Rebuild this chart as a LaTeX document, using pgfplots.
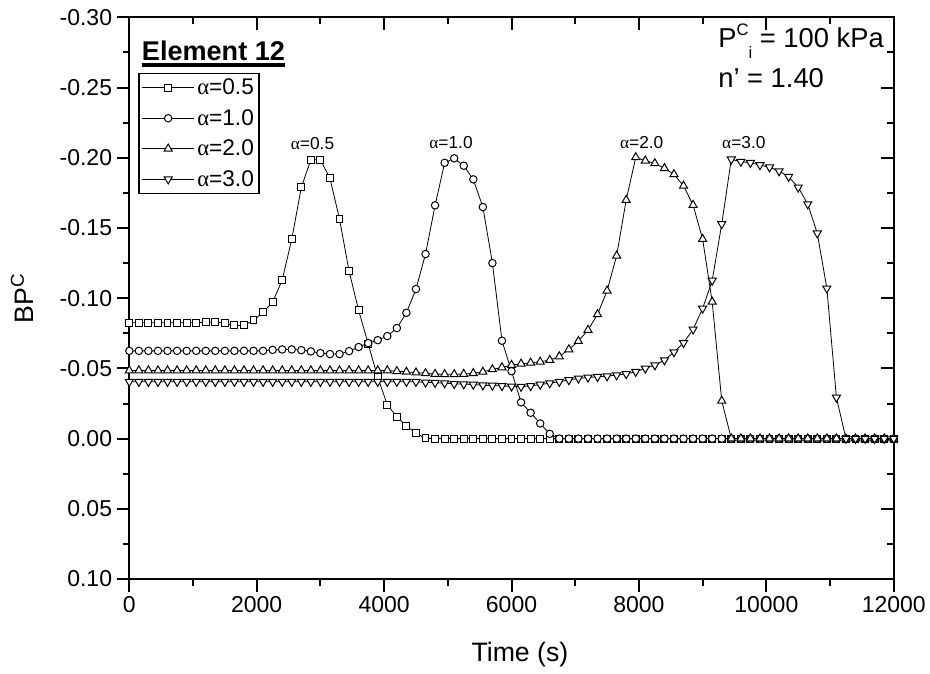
\documentclass[border=0pt]{standalone}
\usepackage{fontspec}
\setmainfont{Liberation Sans}
\newfontfamily\symf{Liberation Serif}
\usepackage{pgfplots}
\usepackage{pgfplotstable}
\pgfplotsset{compat=1.18}

\pgfplotstableread{
t v
0 -0.0825
150 -0.0825
300 -0.0825
450 -0.0825
600 -0.0825
750 -0.0825
900 -0.0825
1050 -0.0825
1200 -0.0830
1350 -0.0832
1500 -0.0820
1650 -0.0806
1800 -0.0806
1950 -0.0842
2100 -0.0900
2250 -0.0972
2400 -0.1129
2550 -0.1419
2700 -0.1789
2850 -0.1986
3000 -0.1986
3150 -0.1853
3300 -0.1563
3450 -0.1193
3600 -0.0913
3750 -0.0675
3900 -0.0436
4050 -0.0241
4200 -0.0155
4350 -0.0091
4500 -0.0037
4650 -0.0003
4800 0
4950 0
5100 0
5250 0
5400 0
5550 0
5700 0
5850 0
6000 0
6150 0
6300 0
6450 0
6600 0
6750 0
6900 0
7050 0
7200 0
7350 0
7500 0
7650 0
7800 0
7950 0
8100 0
8250 0
8400 0
8550 0
8700 0
8850 0
9000 0
9150 0
9300 0
9450 0
9600 0
9750 0
9900 0
10050 0
10200 0
10350 0
10500 0
10650 0
10800 0
10950 0
11100 0
11250 0
11400 0
11550 0
11700 0
11850 0
12000 0
}\tabA

\pgfplotstableread{
t v
0 -0.0625
150 -0.0625
300 -0.0625
450 -0.0625
600 -0.0625
750 -0.0625
900 -0.0625
1050 -0.0625
1200 -0.0625
1350 -0.0625
1500 -0.0625
1650 -0.0625
1800 -0.0625
1950 -0.0625
2100 -0.0625
2250 -0.0632
2400 -0.0635
2550 -0.0635
2700 -0.0630
2850 -0.0621
3000 -0.0609
3150 -0.0602
3300 -0.0602
3450 -0.0623
3600 -0.0652
3750 -0.0680
3900 -0.0701
4050 -0.0730
4200 -0.0787
4350 -0.0896
4500 -0.1065
4650 -0.1314
4800 -0.1661
4950 -0.1964
5100 -0.1996
5250 -0.1943
5400 -0.1846
5550 -0.1649
5700 -0.1250
5850 -0.0697
6000 -0.0480
6150 -0.0258
6300 -0.0184
6450 -0.0108
6600 -0.0034
6750 0
6900 0
7050 0
7200 0
7350 0
7500 0
7650 0
7800 0
7950 0
8100 0
8250 0
8400 0
8550 0
8700 0
8850 0
9000 0
9150 0
9300 0
9450 0
9600 0
9750 0
9900 0
10050 0
10200 0
10350 0
10500 0
10650 0
10800 0
10950 0
11100 0
11250 0
11400 0
11550 0
11700 0
11850 0
12000 0
}\tabB

\pgfplotstableread{
t v
0 -0.0485
150 -0.0485
300 -0.0485
450 -0.0485
600 -0.0485
750 -0.0485
900 -0.0485
1050 -0.0485
1200 -0.0485
1350 -0.0485
1500 -0.0485
1650 -0.0485
1800 -0.0485
1950 -0.0485
2100 -0.0485
2250 -0.0485
2400 -0.0485
2550 -0.0485
2700 -0.0485
2850 -0.0485
3000 -0.0485
3150 -0.0485
3300 -0.0485
3450 -0.0485
3600 -0.0485
3750 -0.0485
3900 -0.0485
4050 -0.0485
4200 -0.0480
4350 -0.0475
4500 -0.0470
4650 -0.0465
4800 -0.0460
4950 -0.0458
5100 -0.0458
5250 -0.0460
5400 -0.0465
5550 -0.0475
5700 -0.0493
5850 -0.0507
6000 -0.0524
6150 -0.0533
6300 -0.0540
6450 -0.0547
6600 -0.0559
6750 -0.0585
6900 -0.0635
7050 -0.0694
7200 -0.0773
7350 -0.0885
7500 -0.1053
7650 -0.1302
7800 -0.1699
7950 -0.2003
8100 -0.1979
8250 -0.1960
8400 -0.1925
8550 -0.1882
8700 -0.1800
8850 -0.1663
9000 -0.1421
9150 -0.0974
9300 -0.0269
9450 0
9600 0
9750 0
9900 0
10050 0
10200 0
10350 0
10500 0
10650 0
10800 0
10950 0
11100 0
11250 0
11400 0
11550 0
11700 0
11850 0
12000 0
}\tabC

\pgfplotstableread{
t v
0 -0.0405
150 -0.0405
300 -0.0405
450 -0.0405
600 -0.0405
750 -0.0405
900 -0.0405
1050 -0.0405
1200 -0.0405
1350 -0.0405
1500 -0.0405
1650 -0.0405
1800 -0.0405
1950 -0.0405
2100 -0.0405
2250 -0.0405
2400 -0.0405
2550 -0.0405
2700 -0.0405
2850 -0.0405
3000 -0.0405
3150 -0.0405
3300 -0.0405
3450 -0.0405
3600 -0.0405
3750 -0.0405
3900 -0.0405
4050 -0.0405
4200 -0.0405
4350 -0.0405
4500 -0.0405
4650 -0.0400
4800 -0.0398
4950 -0.0395
5100 -0.0390
5250 -0.0388
5400 -0.0385
5550 -0.0380
5700 -0.0378
5850 -0.0375
6000 -0.0372
6150 -0.0370
6300 -0.0375
6450 -0.0385
6600 -0.0395
6750 -0.0405
6900 -0.0417
7050 -0.0429
7200 -0.0436
7350 -0.0440
7500 -0.0445
7650 -0.0452
7800 -0.0460
7950 -0.0476
8100 -0.0500
8250 -0.0523
8400 -0.0559
8550 -0.0616
8700 -0.0682
8850 -0.0778
9000 -0.0927
9150 -0.1126
9300 -0.1528
9450 -0.1989
9600 -0.1972
9750 -0.1964
9900 -0.1948
10050 -0.1932
10200 -0.1905
10350 -0.1865
10500 -0.1789
10650 -0.1670
10800 -0.1462
10950 -0.1070
11100 -0.0293
11250 0
11400 0
11550 0
11700 0
11850 0
12000 0
}\tabD

\begin{document}
\begin{tikzpicture}
\pgfplotsset{
  every axis/.append style={
    scale only axis, width=573.3pt, height=421.3pt,
    xmin=0, xmax=12000, ymin=-0.30, ymax=0.10, y dir=reverse,
    axis line style={line width=1.5pt},
    major tick length=9.4pt, minor tick length=5pt,
    xtick={0,2000,4000,6000,8000,10000,12000},
    ytick={-0.3,-0.25,-0.2,-0.15,-0.1,-0.05,0,0.05,0.1},
    minor x tick num=1, minor y tick num=1,
    scaled x ticks=false, scaled y ticks=false,
  },
}
% top / right inward ticks
\begin{axis}[
  tick align=inside,
  xtick pos=right, ytick pos=right,
  xticklabels={}, yticklabels={},
  major tick style={line width=1.5pt, black},
  minor tick style={line width=1.5pt, black},
]
\end{axis}
\begin{axis}[
  tick align=outside,
  xtick pos=left, ytick pos=left,
  major tick style={line width=1.5pt, black},
  minor tick style={line width=1.5pt, black},
  xticklabels={0,2000,4000,6000,8000,10000,12000},
  yticklabels={-0.30,-0.25,-0.20,-0.15,-0.10,-0.05,0.00,0.05,0.10},
  tick label style={font=\fontsize{17.25}{20}\selectfont},
  xlabel={Time (s)},
  ylabel={BP\textsuperscript{C}},
  xlabel style={font=\fontsize{20}{24}\selectfont, at={(axis description cs:0.511,-0.135)}, anchor=center},
  ylabel style={font=\fontsize{20}{24}\selectfont, at={(axis description cs:-0.14,0.5)}, anchor=center},
  clip=false,
  every axis plot/.append style={line width=0.6pt, black},
  legend cell align=left,
  legend style={at={(axis description cs:0.0118,0.9014)}, anchor=north west,
    draw=black, line width=1.2pt, font=\fontsize{17}{19}\selectfont,
    inner xsep=2pt, inner ysep=2pt, row sep=5.5pt},
  legend image code/.code={\draw[mark repeat=2, mark phase=2, #1, line width=0.6pt] plot coordinates {(0pt,0pt) (19.5pt,0pt) (39pt,0pt)};},
]
\addplot[mark=square*, mark size=2.6pt, mark options={solid, fill=white, line width=0.75pt}] table[x=t,y=v] {\tabA};
\addlegendentry{{\symf α}=0.5}
\addplot[mark=*, mark size=2.8pt, mark options={solid, fill=white, line width=0.75pt}] table[x=t,y=v] {\tabB};
\addlegendentry{{\symf α}=1.0}
\addplot[mark=triangle*, mark size=3.5pt, mark options={solid, fill=white, line width=0.75pt}] table[x=t,y=v] {\tabC};
\addlegendentry{{\symf α}=2.0}
\addplot[mark=triangle*, mark size=3.5pt, mark options={solid, fill=white, line width=0.75pt, rotate=180}] table[x=t,y=v] {\tabD};
\addlegendentry{{\symf α}=3.0}

\node[font=\fontsize{13}{15}\selectfont] at (axis cs:2876,-0.2103) {{\symf α}=0.5};
\node[font=\fontsize{13}{15}\selectfont] at (axis cs:5050,-0.2107) {{\symf α}=1.0};
\node[font=\fontsize{13}{15}\selectfont] at (axis cs:8044,-0.2107) {{\symf α}=2.0};
\node[font=\fontsize{13}{15}\selectfont] at (axis cs:9647,-0.2107) {{\symf α}=3.0};

\node[anchor=base west, inner sep=0pt, font=\fontsize{20.3}{24}\selectfont\bfseries] (el) at (axis cs:195,-0.2696) {Element 12};
\draw[line width=3pt] ([yshift=-3.6pt]el.base west) -- ([yshift=-3.6pt]el.base east);

\node[anchor=base west, inner sep=0pt, font=\fontsize{20.5}{22}\selectfont] at (axis cs:9242,-0.2786) {P\raisebox{9pt}{\fontsize{12.5}{12}\selectfont C}\raisebox{-8pt}{\fontsize{12.5}{12}\selectfont i} = 100 kPa};
\node[anchor=base west, inner sep=0pt, font=\fontsize{20.5}{22}\selectfont] at (axis cs:9242,-0.2500) {n' = 1.40};

\coordinate (BL) at (axis cs:0,0.1);
\coordinate (TR) at (axis cs:12000,-0.3);
\end{axis}
\pgfresetboundingbox
\path[use as bounding box] ([shift={(-96.98pt,-70.5pt)}]BL) rectangle ([shift={(27.2pt,12.98pt)}]TR);
\end{tikzpicture}
\end{document}
